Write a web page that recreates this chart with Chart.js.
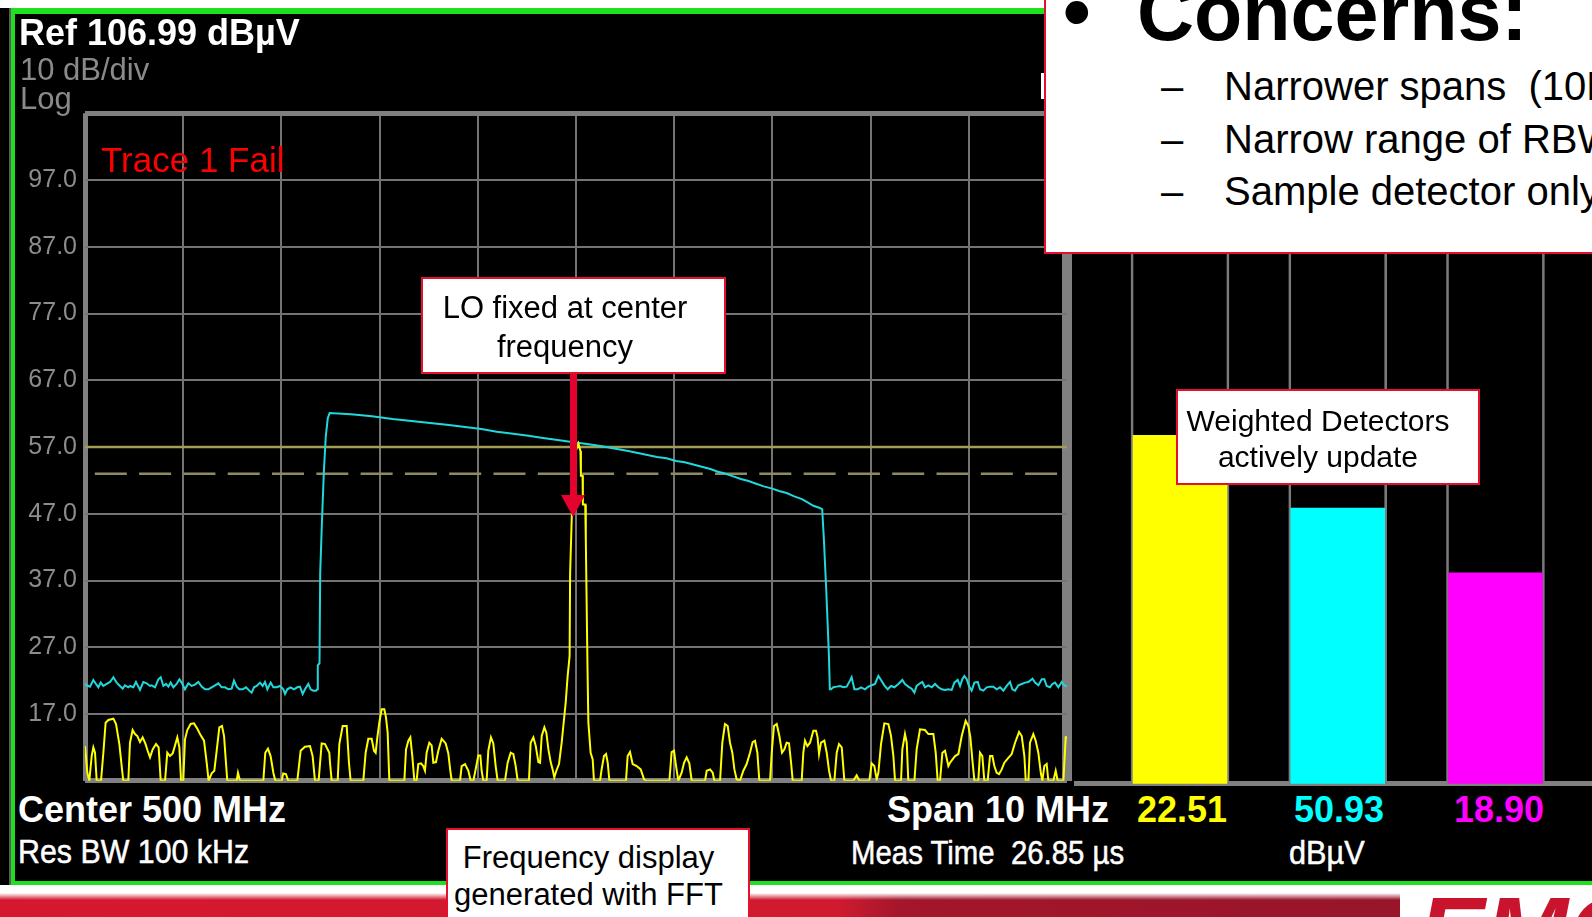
<!DOCTYPE html>
<html>
<head>
<meta charset="utf-8">
<title>FFT spectrum with weighted detector meters</title>
<script src="https://cdn.jsdelivr.net/npm/chart.js@4.4.1/dist/chart.umd.min.js"></script>
<style>
  html, body { margin: 0; padding: 0; }
  body {
    width: 1592px; height: 917px; position: relative; overflow: hidden;
    background: #fff; font-family: 'Liberation Sans', Arial, sans-serif;
  }
  .abs { position: absolute; white-space: nowrap; line-height: 1; }
  #bezel { left: 0; top: 8px; width: 1592px; height: 878px; background: #000; }
  #bezelLine { left: 9px; top: 8px; width: 2px; height: 878px; background: #5a5a5a; }
  #screen {
    left: 11px; top: 8px; width: 1620px; height: 878px; box-sizing: border-box;
    border-style: solid; border-color: #1fe01f; border-width: 6px 0 5px 4px; background: #000;
  }
  #band {
    left: 0; top: 885px; width: 1592px; height: 32px;
    background:
      linear-gradient(to bottom, #fff 0px, #fff 8px, rgba(255,255,255,0) 15px),
      linear-gradient(to right, #d6182e 0px, #cf1a30 840px, #a3162b 900px, #98152a 1400px, #fff 1400px);
  }
  #logo { left: 1418px; top: 882px; font-size: 100px; font-weight: bold; font-style: italic; color: #c8142c; }
  #spectrum { position: absolute; left: 15px; top: 14px; }
  #meters { position: absolute; left: 1074px; top: 17px; }
  .white { color: #fff; }
  .gray { color: #8a8a8a; }
  .bold { font-weight: bold; }
  .narrow { transform-origin: 0 0; -webkit-text-stroke: 0.5px #fff; }
  .callout { position: absolute; box-sizing: border-box; background: #fff; border: 2px solid #e4102c; }
  .note { position: absolute; width: 300px; text-align: center; color: #000; line-height: 1; white-space: nowrap; }
  #concerns { left: 1044px; top: -4px; width: 620px; height: 258px; }
  .arrow-shaft { position: absolute; left: 569.5px; top: 374px; width: 7.5px; height: 122px; background: #e4032e; }
  .arrow-head {
    position: absolute; left: 561px; top: 495px; width: 0; height: 0;
    border-left: 12px solid transparent; border-right: 12px solid transparent; border-top: 22px solid #e4032e;
  }
</style>
</head>
<body>
<div class="abs" id="bezel"></div>
<div class="abs" id="bezelLine"></div>
<div class="abs" id="screen"></div>
<div class="abs" id="band"></div>
<div class="abs" id="logo">EMC</div>

<canvas id="spectrum" width="1063" height="772"></canvas>
<canvas id="meters" width="518" height="772"></canvas>

<!-- analyzer annotations -->
<div class="abs white bold" style="left:19px; top:14.5px; font-size:36px;">Ref 106.99 dBµV</div>
<div class="abs gray" style="left:20px; top:54px; font-size:31px;">10 dB/div</div>
<div class="abs gray" style="left:20px; top:83px; font-size:31px;">Log</div>
<div class="abs" style="left:101px; top:142.4px; font-size:35px; color:#ff0000;">Trace 1 Fail</div>
<div class="abs" style="left:1041px; top:73px; width:3px; height:26px; background:#fff;"></div>

<div class="abs white bold" style="left:18px; top:791.5px; font-size:36px;">Center 500 MHz</div>
<div class="abs white narrow" style="left:18px; top:835px; font-size:33px; transform:scaleX(0.92);">Res BW 100 kHz</div>
<div class="abs white bold" style="left:887px; top:791.5px; font-size:36px;">Span 10 MHz</div>
<div class="abs white narrow" style="left:851px; top:836px; font-size:33px; transform:scaleX(0.89);">Meas Time&nbsp; 26.85 µs</div>
<div class="abs bold" id="readY" style="left:1137px; top:791.5px; font-size:36px; color:#ffff00;"></div>
<div class="abs bold" id="readC" style="left:1294px; top:791.5px; font-size:36px; color:#00ffff;"></div>
<div class="abs bold" id="readM" style="left:1454px; top:791.5px; font-size:36px; color:#ff00ff;"></div>
<div class="abs white narrow" style="left:1289px; top:836px; font-size:33px; transform:scaleX(0.93);">dBµV</div>

<!-- callouts -->
<div class="callout" style="left:421px; top:277px; width:305px; height:97px;"></div>
<div class="note" style="left:415px; top:291.5px; font-size:31px;">LO fixed at center</div>
<div class="note" style="left:415px; top:331px; font-size:31px;">frequency</div>
<div class="arrow-shaft"></div>
<div class="arrow-head"></div>

<div class="callout" style="left:1176px; top:389px; width:304px; height:96px;"></div>
<div class="note" style="left:1168px; top:405.6px; font-size:30px;">Weighted Detectors</div>
<div class="note" style="left:1168px; top:441.6px; font-size:30px;">actively update</div>

<div class="callout" style="left:446px; top:828px; width:304px; height:110px;"></div>
<div class="note" style="left:438.5px; top:841.8px; font-size:31px;">Frequency display</div>
<div class="note" style="left:438.5px; top:878.8px; font-size:31px;">generated with FFT</div>

<div class="callout" id="concerns"></div>
<div class="abs bold" style="left:1063px; top:-28px; font-size:79px;">•</div>
<div class="abs bold" style="left:1137px; top:-26.9px; font-size:79px;">Concerns:</div>
<div class="abs" style="left:1161px; top:66.1px; font-size:40px;">–</div>
<div class="abs" style="left:1224px; top:66.1px; font-size:40px;">Narrower spans&nbsp; (10MHz)</div>
<div class="abs" style="left:1161px; top:119.1px; font-size:40px;">–</div>
<div class="abs" style="left:1224px; top:119.1px; font-size:40px;">Narrow range of RBW</div>
<div class="abs" style="left:1161px; top:171.1px; font-size:40px;">–</div>
<div class="abs" style="left:1224px; top:171.1px; font-size:40px;">Sample detector only</div>

<script>
// ===== Spectrum display: 495-505 MHz, 10 dB/div, ref 107 dBuV =====

const spanStart = 495;
const spanStop = 505;
const refTop = 107;
const refBottom = 7;
const dbPerDiv = 10;

// limit line and margin line (dBuV)
const limitMHz = [495, 505];
const limitDb = [57, 57];
const marginMHz = [495.1, 504.9];
const marginDb = [53, 53];

// trace 2 (cyan, max hold) as [MHz, dBuV] vertices
const cyanTrace = [
    [495.000, 21.5], [495.017, 21.3], [495.051, 21.1], [495.085, 22.1], [495.112, 21.5], [495.136, 21.0],
    [495.160, 21.7], [495.187, 21.2], [495.221, 21.5], [495.255, 21.8], [495.289, 22.5], [495.322, 21.7],
    [495.356, 21.2], [495.384, 20.8], [495.407, 21.3], [495.441, 21.0], [495.458, 21.2], [495.492, 21.0],
    [495.519, 21.8], [495.543, 21.1], [495.560, 20.6], [495.594, 21.8], [495.628, 21.6], [495.662, 21.2],
    [495.679, 21.3], [495.713, 21.0], [495.747, 22.2], [495.771, 22.5], [495.798, 21.2], [495.825, 21.5],
    [495.849, 21.1], [495.872, 21.7], [495.900, 21.0], [495.933, 21.5], [495.961, 22.2], [495.984, 21.7],
    [496.018, 20.7], [496.052, 21.6], [496.086, 21.2], [496.120, 21.4], [496.154, 21.8], [496.188, 21.1],
    [496.222, 20.7], [496.256, 20.7], [496.290, 21.0], [496.324, 21.3], [496.358, 21.6], [496.392, 21.0],
    [496.426, 21.0], [496.460, 20.7], [496.494, 20.8], [496.517, 22.0], [496.545, 21.1], [496.572, 20.7],
    [496.606, 20.7], [496.640, 21.0], [496.673, 20.5], [496.697, 20.2], [496.721, 21.0], [496.748, 21.2],
    [496.782, 21.7], [496.809, 21.2], [496.833, 21.8], [496.857, 20.7], [496.891, 21.7], [496.918, 21.0],
    [496.952, 21.0], [496.986, 21.2], [497.020, 20.7], [497.037, 20.0], [497.060, 20.7], [497.094, 21.0],
    [497.128, 20.7], [497.162, 21.0], [497.189, 21.1], [497.217, 20.0], [497.240, 20.7], [497.274, 21.5],
    [497.298, 20.7], [497.325, 20.5], [497.352, 20.5], [497.366, 20.7],
    // signal band
    [497.369, 20.7], [497.372, 24.3], [497.388, 24.6], [497.395, 38.0], [497.413, 45.9], [497.433, 53.5],
    [497.452, 58.6], [497.472, 61.3], [497.491, 62.1], [497.709, 61.9], [497.922, 61.6], [498.132, 61.2],
    [498.326, 60.9], [498.513, 60.6], [498.707, 60.3], [498.870, 60.0], [499.037, 59.7], [499.193, 59.3],
    [499.360, 59.0], [499.515, 58.7], [499.647, 58.4], [499.795, 58.1], [499.939, 57.8], [500.036, 57.6],
    [500.183, 57.3], [500.308, 57.0], [500.416, 56.7], [500.533, 56.4], [500.630, 56.1], [500.727, 55.8],
    [500.824, 55.5], [500.922, 55.3], [501.019, 54.9], [501.108, 54.7], [501.213, 54.3], [501.291, 54.0],
    [501.368, 53.7], [501.446, 53.3], [501.524, 53.0], [501.601, 52.6], [501.679, 52.2], [501.757, 51.9],
    [501.834, 51.5], [501.912, 51.1], [501.990, 50.8], [502.068, 50.4], [502.145, 50.1], [502.223, 49.6],
    [502.301, 49.2], [502.359, 48.7], [502.417, 48.2], [502.476, 47.9], [502.507, 47.7], [502.525, 43.0],
    [502.550, 35.0], [502.575, 26.0], [502.585, 20.7],
    // upper noise floor
    [502.597, 20.7], [502.621, 21.0], [502.655, 21.1], [502.689, 21.2], [502.723, 21.0], [502.756, 21.1],
    [502.790, 22.0], [502.807, 22.5], [502.835, 20.7], [502.868, 20.7], [502.902, 21.0], [502.943, 20.7],
    [502.977, 21.1], [503.011, 21.3], [503.045, 21.5], [503.079, 22.7], [503.106, 22.1], [503.140, 21.3],
    [503.174, 20.7], [503.208, 21.2], [503.242, 21.0], [503.283, 21.5], [503.323, 22.1], [503.350, 21.5],
    [503.384, 21.1], [503.418, 20.8], [503.446, 20.2], [503.469, 21.2], [503.503, 21.6], [503.527, 21.8],
    [503.554, 21.0], [503.588, 21.3], [503.622, 21.0], [503.656, 21.5], [503.690, 21.0], [503.724, 20.7],
    [503.758, 20.6], [503.792, 20.7], [503.826, 20.6], [503.853, 21.7], [503.887, 22.1], [503.911, 21.2],
    [503.934, 22.2], [503.955, 22.7], [503.979, 22.2], [504.002, 21.2], [504.029, 20.5], [504.057, 21.7],
    [504.091, 21.8], [504.114, 20.7], [504.148, 20.5], [504.182, 21.0], [504.216, 21.1], [504.250, 21.1],
    [504.284, 20.7], [504.318, 21.0], [504.352, 20.5], [504.386, 21.2], [504.420, 21.8], [504.444, 20.7],
    [504.471, 20.5], [504.505, 21.3], [504.539, 21.5], [504.573, 21.7], [504.607, 21.8], [504.648, 22.3],
    [504.675, 21.7], [504.709, 21.3], [504.743, 22.2], [504.770, 22.2], [504.793, 21.2], [504.827, 21.0],
    [504.851, 21.5], [504.878, 21.7], [504.912, 21.0], [504.946, 21.8], [504.973, 21.3], [504.997, 21.1]
];

// trace 1 (yellow, live FFT) as [MHz, dBuV] vertices
const yellowTrace = [
    [495.000, 12.2], [495.024, 8.2], [495.044, 7.0], [495.068, 10.7], [495.085, 12.0], [495.102, 11.2],
    [495.119, 7.0], [495.163, 7.0], [495.187, 11.2], [495.210, 15.7], [495.238, 16.1], [495.289, 16.3],
    [495.316, 15.5], [495.350, 12.5], [495.377, 8.7], [495.390, 7.0], [495.441, 7.0], [495.458, 12.7],
    [495.485, 14.6], [495.509, 14.0], [495.533, 13.7], [495.560, 12.8], [495.587, 13.5], [495.614, 12.6],
    [495.638, 11.5], [495.662, 10.5], [495.689, 11.7], [495.723, 12.5], [495.750, 12.0], [495.771, 7.0],
    [495.815, 7.0], [495.838, 11.2], [495.865, 10.7], [495.893, 11.1], [495.917, 12.3], [495.940, 13.5],
    [495.961, 12.0], [495.978, 7.0], [496.001, 7.0], [496.018, 13.2], [496.042, 14.6], [496.076, 15.5],
    [496.110, 15.6], [496.144, 14.8], [496.178, 13.8], [496.212, 13.0], [496.239, 9.7], [496.259, 7.0],
    [496.290, 8.1], [496.317, 8.5], [496.341, 11.5], [496.368, 15.0], [496.395, 15.2], [496.416, 13.7],
    [496.433, 10.2], [496.449, 7.0], [496.545, 7.0], [496.558, 8.2], [496.578, 7.0], [496.816, 7.0],
    [496.836, 11.2], [496.863, 11.8], [496.890, 10.7], [496.918, 8.2], [496.938, 7.0], [497.003, 7.0],
    [497.019, 8.1], [497.046, 8.0], [497.070, 7.0], [497.162, 7.0], [497.196, 11.5], [497.240, 12.1],
    [497.291, 12.2], [497.318, 10.7], [497.342, 7.0], [497.379, 7.0], [497.410, 12.6], [497.444, 12.5],
    [497.488, 11.2], [497.495, 9.7], [497.512, 7.0], [497.573, 7.0], [497.590, 12.5], [497.624, 15.2],
    [497.665, 15.2], [497.688, 9.7], [497.705, 7.0], [497.834, 7.0], [497.858, 11.2], [497.885, 13.3],
    [497.919, 13.3], [497.943, 11.5], [497.960, 11.2], [497.977, 13.5], [497.997, 15.7], [498.021, 17.7],
    [498.048, 17.7], [498.065, 16.5], [498.082, 14.2], [498.099, 7.0], [498.252, 7.0], [498.269, 11.7],
    [498.293, 13.0], [498.313, 13.5], [498.333, 10.7], [498.354, 7.0], [498.377, 7.0], [498.394, 9.5],
    [498.421, 9.6], [498.445, 9.2], [498.462, 8.5], [498.479, 11.2], [498.506, 12.7], [498.530, 12.3],
    [498.547, 9.7], [498.574, 9.8], [498.598, 11.5], [498.632, 13.3], [498.673, 12.6], [498.700, 11.1],
    [498.720, 8.5], [498.734, 7.0], [498.819, 7.0], [498.836, 9.2], [498.870, 9.5], [498.904, 8.5],
    [498.927, 7.0], [498.955, 7.0], [498.978, 8.7], [499.005, 10.8], [499.026, 10.8], [499.039, 8.5],
    [499.056, 7.0], [499.090, 7.0], [499.107, 11.5], [499.134, 13.5], [499.158, 12.6], [499.182, 9.2],
    [499.202, 7.0], [499.277, 7.0], [499.304, 9.7], [499.335, 11.2], [499.362, 11.0], [499.386, 9.2],
    [499.406, 7.0], [499.521, 7.0], [499.538, 12.7], [499.566, 13.5], [499.589, 12.3], [499.617, 9.8],
    [499.634, 9.7], [499.651, 13.7], [499.678, 15.0], [499.698, 14.2], [499.719, 11.7], [499.742, 9.8],
    [499.762, 8.7], [499.779, 7.5], [499.800, 8.5], [499.827, 9.5], [499.854, 12.7], [499.871, 15.2],
    [499.895, 18.7], [499.915, 22.7], [499.935, 25.7],
    // LO carrier
    [499.940, 38.0], [499.958, 47.1], [499.975, 52.5], [500.000, 56.5], [500.025, 57.5], [500.045, 56.4],
    [500.050, 52.7], [500.067, 52.7], [500.070, 48.4], [500.094, 48.4], [500.100, 43.0], [500.117, 24.0],
    [500.126, 15.7], [500.149, 11.2], [500.170, 10.2], [500.183, 7.0],
    [500.245, 7.0], [500.261, 8.7], [500.285, 10.7], [500.306, 11.0], [500.323, 9.7], [500.340, 7.0],
    [500.509, 7.0], [500.526, 10.7], [500.550, 11.3], [500.577, 9.5], [500.618, 9.2], [500.659, 8.7],
    [500.693, 7.2], [500.713, 7.0], [500.951, 7.0], [500.974, 11.3], [500.998, 11.5], [501.019, 9.2],
    [501.042, 7.0], [501.076, 8.2], [501.100, 9.7], [501.127, 10.5], [501.154, 9.6], [501.178, 7.0],
    [501.314, 7.0], [501.331, 8.5], [501.365, 8.7], [501.392, 8.2], [501.409, 7.0], [501.467, 7.0],
    [501.490, 12.7], [501.517, 15.5], [501.545, 15.2], [501.568, 12.7], [501.592, 11.2], [501.613, 8.7],
    [501.636, 7.2], [501.670, 7.0], [501.704, 8.5], [501.738, 9.5], [501.772, 11.2], [501.799, 12.8],
    [501.823, 13.0], [501.847, 11.2], [501.867, 7.0], [501.976, 7.0], [501.993, 11.2], [502.016, 15.2],
    [502.044, 15.5], [502.071, 13.7], [502.098, 11.2], [502.122, 11.7], [502.145, 12.7], [502.169, 12.6],
    [502.190, 9.7], [502.207, 7.0], [502.298, 7.0], [502.315, 11.2], [502.332, 13.0], [502.356, 12.2],
    [502.383, 12.7], [502.417, 14.5], [502.444, 14.5], [502.460, 13.5], [502.475, 11.0], [502.495, 12.7],
    [502.529, 13.0], [502.553, 11.2], [502.577, 8.5], [502.597, 7.0], [502.631, 7.0], [502.655, 11.2],
    [502.678, 12.5], [502.706, 12.0], [502.733, 7.0], [502.824, 7.0], [502.858, 7.8], [502.885, 7.0],
    [502.987, 7.0], [503.011, 9.6], [503.038, 9.2], [503.062, 7.2], [503.079, 8.2], [503.106, 12.5],
    [503.140, 15.6], [503.181, 15.5], [503.208, 13.7], [503.232, 10.7], [503.249, 7.0], [503.310, 7.0],
    [503.323, 11.7], [503.350, 14.0], [503.368, 12.7], [503.384, 7.0], [503.446, 7.0], [503.469, 11.7],
    [503.503, 14.7], [503.554, 14.6], [503.588, 14.0], [503.639, 14.0], [503.663, 11.2], [503.683, 7.0],
    [503.707, 7.0], [503.731, 11.2], [503.758, 11.5], [503.792, 9.2], [503.809, 9.7], [503.860, 10.7],
    [503.894, 11.0], [503.928, 13.7], [503.968, 16.0], [503.996, 15.2], [504.016, 13.5], [504.036, 10.2],
    [504.057, 7.0], [504.097, 7.0], [504.114, 11.2], [504.138, 10.7], [504.158, 7.0], [504.192, 7.0],
    [504.216, 10.7], [504.240, 10.7], [504.260, 9.2], [504.284, 8.2], [504.308, 8.0], [504.335, 8.7],
    [504.362, 9.7], [504.396, 10.3], [504.437, 11.0], [504.471, 12.7], [504.512, 14.3], [504.539, 13.7],
    [504.566, 10.7], [504.580, 7.0], [504.607, 7.0], [504.623, 12.7], [504.657, 14.0], [504.681, 13.0],
    [504.708, 11.2], [504.735, 8.0], [504.749, 7.0], [504.769, 9.2], [504.793, 9.5], [504.810, 7.0],
    [504.861, 7.0], [504.885, 8.5], [504.905, 7.0], [504.963, 7.0], [504.987, 13.5], [505.000, 13.5]
];

// ===== Weighted detector meters =====
const meterSlots = [1, 2, 3];
const meterLevels = [59.2, 48.3, 38.6];          // bar heights, dBuV
const meterReadouts = ['22.51', '50.93', '18.90']; // numeric readouts under the bars
const meterColors = ['#ffff00', '#00ffff', '#ff00ff'];

const toPoints = (trace) => trace.map(p => ({ x: p[0], y: p[1] }));
const pairUp = (xs, ys) => xs.map((x, i) => ({ x: x, y: ys[i] }));

// keep the plot area fixed: no extra room for end tick labels
function pinScale(scale, size) {
    if (scale.isHorizontal()) scale.height = size;
    else scale.width = size;
    scale.paddingTop = 0;
    scale.paddingBottom = 0;
    scale.paddingLeft = 0;
    scale.paddingRight = 0;
}

Chart.defaults.font.family = "'Liberation Sans', Arial, sans-serif";

function initSpectrum() {
    const ctx = document.getElementById('spectrum').getContext('2d');

    const edgeX = (c) => c.tick && (c.tick.value === spanStart || c.tick.value === spanStop);
    const edgeY = (c) => c.tick && (c.tick.value === refTop || c.tick.value === refBottom);

    return new Chart(ctx, {
        type: 'line',
        data: {
            datasets: [
                {
                    data: pairUp(limitMHz, limitDb),
                    borderColor: '#a39d54',
                    borderWidth: 2.5,
                    order: 4
                },
                {
                    data: pairUp(marginMHz, marginDb),
                    borderColor: '#8f8b5e',
                    borderWidth: 2.5,
                    borderDash: [32, 12.3],
                    order: 3
                },
                {
                    data: toPoints(cyanTrace),
                    borderColor: '#20d8dc',
                    borderWidth: 2,
                    order: 2
                },
                {
                    data: toPoints(yellowTrace),
                    borderColor: '#ffff00',
                    borderWidth: 2,
                    order: 1
                }
            ]
        },
        options: {
            responsive: false,
            animation: false,
            devicePixelRatio: 1,
            layout: { padding: { left: 0, right: 11, top: 99.25, bottom: 5.25 } },
            elements: {
                point: { radius: 0 },
                line: { tension: 0, fill: false, borderJoinStyle: 'miter' }
            },
            plugins: {
                legend: { display: false },
                tooltip: { enabled: false }
            },
            scales: {
                x: {
                    type: 'linear',
                    min: spanStart,
                    max: spanStop,
                    ticks: { stepSize: 1, display: false },
                    grid: {
                        drawTicks: false,
                        color: (c) => edgeX(c) ? '#808080' : '#737373',
                        lineWidth: (c) => c.tick && c.tick.value === spanStop ? 10 : (edgeX(c) ? 5 : 2)
                    },
                    border: { display: false },
                    afterFit: (scale) => pinScale(scale, 0)
                },
                y: {
                    min: refBottom,
                    max: refTop,
                    ticks: {
                        stepSize: dbPerDiv,
                        padding: 8,
                        color: '#8c8c8c',
                        font: { size: 25 },
                        callback: (v) => (v === refTop || v === refBottom) ? '' : v.toFixed(1)
                    },
                    grid: {
                        drawTicks: false,
                        color: (c) => edgeY(c) ? '#808080' : '#737373',
                        lineWidth: (c) => edgeY(c) ? 5 : 2
                    },
                    border: { display: false },
                    afterFit: (scale) => pinScale(scale, 70)
                }
            }
        }
    });
}

function initMeters() {
    const ctx = document.getElementById('meters').getContext('2d');

    return new Chart(ctx, {
        type: 'bar',
        data: {
            datasets: [
                {
                    // empty meter slots, full scale
                    data: meterSlots.map(s => ({ x: s, y: refTop })),
                    backgroundColor: 'rgba(0,0,0,0)',
                    borderColor: '#7a7a7a',
                    borderWidth: { left: 2, right: 2, top: 0, bottom: 0 },
                    borderSkipped: false,
                    barThickness: 98,
                    grouped: false,
                    order: 2
                },
                {
                    data: meterSlots.map((s, i) => ({ x: s, y: meterLevels[i] })),
                    backgroundColor: meterColors,
                    borderWidth: 0,
                    barThickness: 94,
                    grouped: false,
                    order: 1
                }
            ]
        },
        options: {
            responsive: false,
            animation: false,
            devicePixelRatio: 1,
            layout: { padding: { left: 0, right: 0, top: 99.25, bottom: 5.25 } },
            plugins: {
                legend: { display: false },
                tooltip: { enabled: false }
            },
            scales: {
                x: {
                    type: 'linear',
                    min: 0.328,
                    max: 3.612,
                    offset: false,
                    ticks: { display: false },
                    grid: { display: false, drawTicks: false },
                    border: { display: true, color: '#808080', width: 5 },
                    afterFit: (scale) => pinScale(scale, 0)
                },
                y: {
                    display: false,
                    min: refBottom,
                    max: refTop
                }
            }
        }
    });
}

function fillReadouts() {
    document.getElementById('readY').textContent = meterReadouts[0];
    document.getElementById('readC').textContent = meterReadouts[1];
    document.getElementById('readM').textContent = meterReadouts[2];
}

initSpectrum();
initMeters();
fillReadouts();
</script>
</body>
</html>
